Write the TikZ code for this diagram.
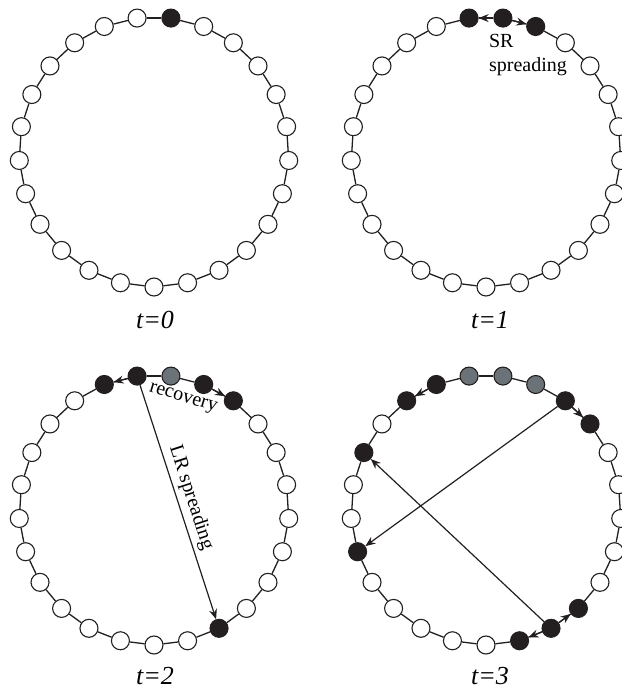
\documentclass[tikz,border=0pt]{standalone}
\usepackage{fontspec}
\setmainfont{Liberation Serif}
\usepackage{tikz}
\usetikzlibrary{arrows.meta,positioning}

\definecolor{nodeblack}{RGB}{35,31,32}
\definecolor{recgray}{RGB}{107,115,120}

\tikzset{
  site/.style={circle,draw=nodeblack,fill=white,line width=1.1pt,minimum size=18pt,inner sep=0pt},
  infected/.style={fill=nodeblack},
  recovered/.style={fill=recgray},
  link/.style={draw=nodeblack,line width=1.3pt},
  spread/.style={draw=nodeblack,line width=1.2pt,-{Stealth[length=10pt,width=8pt]}},
  caption/.style={font=\fontsize{26}{30}\selectfont\itshape,inner sep=0pt},
  note/.style={font=\fontsize{20}{24}\selectfont,inner sep=0pt},
}

\newcommand{\ring}[1]{%
  \foreach \k in {1,...,25}
    \node[site,n\k/.try] (#1\k) at ({97.2-14.4*(\k-1)}:135) {};
  \foreach \k [remember=\k as \j (initially 25)] in {1,...,25}
    \draw[link] (#1\j) -- (#1\k);
}

\begin{document}
\begin{tikzpicture}[x=1pt,y=1pt]
\useasboundingbox (0,0) rectangle (621,-693);

\begin{scope}[shift={(154,-152)},n2/.style=infected]
\ring{a}
\end{scope}
\node[caption] (cap0) at (155,-320) {t=0};

\begin{scope}[shift={(486,-152)},n1/.style=infected,n2/.style=infected,n3/.style=infected]
\ring{b}
\end{scope}
\draw[spread] (b2) -- (b1);
\draw[spread] (b2) -- (b3);
\node[note,align=left,anchor=north west] (sr) at ([shift={(-14,-6)}]b2.south) {SR\\spreading};
\node[caption] (cap1) at (490,-320) {t=1};

\begin{scope}[shift={(154,-510)},n25/.style=infected,n1/.style=infected,n2/.style=recovered,
  n3/.style=infected,n4/.style=infected,n12/.style=infected]
\ring{c}
\end{scope}
\draw[spread] (c1) -- (c25);
\draw[spread] (c3) -- (c4);
\draw[spread] (c1) -- node[note,sloped,above=4pt] (lr) {LR spreading} (c12);
\node[note,rotate=-17] (rec) at ([shift={(12,-23)}]c2) {recovery};
\node[caption] (cap2) at (155,-676) {t=2};

\begin{scope}[shift={(486,-510)},n24/.style=infected,n25/.style=infected,n1/.style=recovered,
  n2/.style=recovered,n3/.style=recovered,n4/.style=infected,n5/.style=infected,
  n11/.style=infected,n12/.style=infected,n13/.style=infected,n19/.style=infected,n22/.style=infected]
\ring{d}
\end{scope}
\draw[spread] (d25) -- (d24);
\draw[spread] (d4) -- (d5);
\draw[spread] (d12) -- (d11);
\draw[spread] (d12) -- (d13);
\draw[spread] (d4) -- (d19);
\draw[spread] (d12) -- (d22);
\node[caption] (cap3) at (490,-676) {t=3};
\end{tikzpicture}
\end{document}
